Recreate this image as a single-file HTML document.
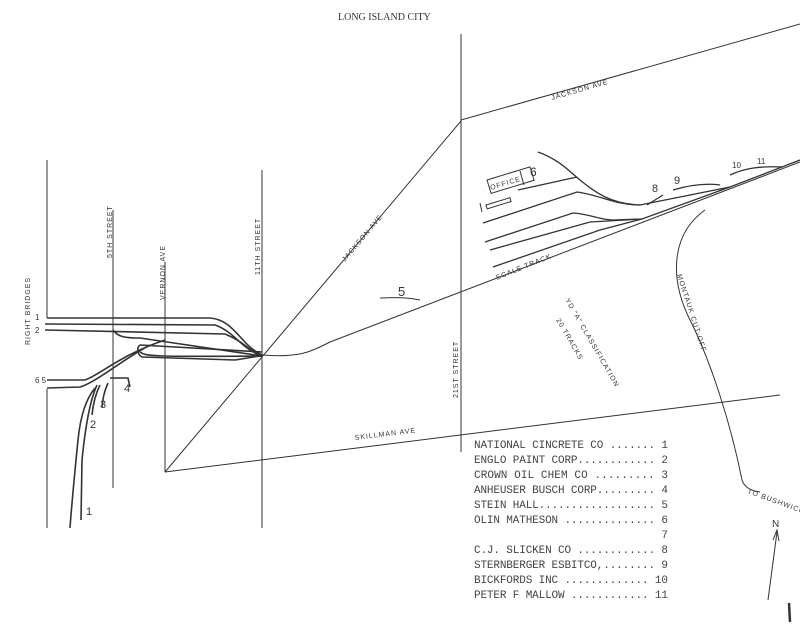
<!DOCTYPE html>
<html><head><meta charset="utf-8"><style>
html,body{margin:0;padding:0;background:#fff;width:800px;height:633px;overflow:hidden}
svg{display:block}
.t{font-family:"Liberation Mono",monospace;font-size:11px;fill:#444}
.s{font-family:"Liberation Sans",sans-serif;font-size:7px;fill:#333;letter-spacing:1px}
</style></head><body>
<svg width="800" height="633" viewBox="0 0 800 633" xmlns="http://www.w3.org/2000/svg">
<g stroke="#333" fill="none" stroke-width="1">
<line x1="461" y1="34" x2="461" y2="452"/>
<line x1="461" y1="120" x2="800" y2="24"/>
<line x1="165" y1="472" x2="461" y2="121"/>
<line x1="165" y1="472" x2="780" y2="395"/>
<path d="M262 355 C300 358 310 352 330 342 L800 162"/>
<path d="M705 210 C670 235 670 280 690 320 C710 360 730 420 742 480 Q745 490 760 492"/>
<line x1="47" y1="160" x2="47" y2="318"/>
<line x1="47" y1="389" x2="47" y2="528"/>
<line x1="113" y1="210" x2="113" y2="488"/>
<line x1="165" y1="262" x2="165" y2="472"/>
<line x1="262" y1="170" x2="262" y2="528"/>
<!-- yard tracks -->
<g stroke-width="1.3">
<path d="M538 152 C560 160 570 172 580 180 C595 192 610 204 640 205"/>
<path d="M518 190 L577 177"/>
<path d="M483 223 L577 192 C600 195 615 205 640 205"/>
<path d="M640 205 L730 187 L800 160"/>
<path d="M485 242 L573 213 C590 214 600 220 613 220 L642 219 L730 187"/>
<path d="M490 250 L590 222 L642 219"/>
<path d="M493 267 L600 230 L642 219"/>
<path d="M647 205 L663 195"/>
<path d="M673 190 C690 185 705 183 720 185"/>
<path d="M730 175 C745 168 760 166 783 167"/>
</g>
<rect x="487" y="180" width="45" height="14" transform="rotate(-17 487 180)"/>
<line x1="520" y1="171" x2="524" y2="185"/>
<rect x="486" y="205" width="25" height="4" transform="rotate(-17 486 205)"/>
<line x1="480" y1="203" x2="482" y2="212"/>
<!-- left tracks -->
<g stroke-width="1.6">
<path d="M47 318 L210 318 C235 320 240 345 262 355"/>
<path d="M45 324 L215 325 C235 332 240 348 262 356"/>
<path d="M45 330 L225 334 C245 342 250 352 262 356"/>
<path d="M113 330 C118 337 125 338 140 338 L262 356"/>
<path d="M140 345 L262 352"/>
<path d="M140 352 C145 356 150 357 262 356"/>
<path d="M140 345 C136 348 138 355 142 357 L235 360 C250 358 255 356 262 356"/>
<path d="M47 380 L85 380 C100 375 120 355 165 340"/>
<path d="M47 388 L80 387 C95 383 125 358 150 345"/>
<path d="M110 378 L128 378 L130 387"/>
<path d="M95 388 C85 400 80 420 78 440 C75 470 72 500 70 528"/>
<path d="M97 385 C90 400 85 430 82 460 L81 520"/>
<path d="M100 385 C95 395 93 405 92 415"/>
<path d="M108 383 C104 392 103 398 102 407"/>
</g>
<line x1="768" y1="600" x2="777" y2="532"/>
<path d="M773 540 L777 530 L779 541"/>
<line x1="789" y1="603" x2="790" y2="622" stroke-width="2.5"/>
<path d="M380 298 C400 297 410 298 420 300"/>
</g>
<text x="338" y="20" font-family="Liberation Serif,serif" font-size="10" fill="#333">LONG ISLAND CITY</text>
<g class="s">
<text transform="translate(552 100) rotate(-16)">JACKSON AVE</text>
<text transform="translate(345 262) rotate(-50)">JACKSON AVE</text>
<text transform="translate(355 440) rotate(-7)">SKILLMAN AVE</text>
<text transform="translate(458 398) rotate(-90)">21ST STREET</text>
<text transform="translate(260 275) rotate(-90)">11TH STREET</text>
<text transform="translate(165 300) rotate(-90)">VERNON AVE</text>
<text transform="translate(112 258) rotate(-90)">5TH STREET</text>
<text transform="translate(30 345) rotate(-90)">RIGHT BRIDGES</text>
<text transform="translate(677 275) rotate(72)">MONTAUK CUT-OFF</text>
<text transform="translate(565 300) rotate(60)">YD "A" CLASSIFICATION</text>
<text transform="translate(556 320) rotate(60)">20 TRACKS</text>
<text transform="translate(497 280) rotate(-22)">SCALE TRACK</text>
<text transform="translate(491 190) rotate(-17)">OFFICE</text>
<text transform="translate(747 493) rotate(20)">TO BUSHWICK</text>
</g>
<g font-family="Liberation Sans,sans-serif" font-size="11" fill="#333">
<text x="530" y="176" font-size="12">6</text>
<text x="398" y="296" font-size="13">5</text>
<text x="652" y="192">8</text><text x="674" y="184">9</text>
<text x="732" y="168" font-size="8">10</text><text x="757" y="164" font-size="8">11</text>
<text x="35" y="320" font-size="8">1</text><text x="35" y="333" font-size="8">2</text>
<text x="35" y="383" font-size="8">6 5</text>
<text x="86" y="515">1</text><text x="90" y="428">2</text>
<text x="100" y="408">3</text><text x="124" y="392">4</text>
<text x="772" y="527" font-size="10">N</text>
</g>
<g class="t">
<text x="474" y="448" textLength="194">NATIONAL CINCRETE CO ....... 1</text>
<text x="474" y="463" textLength="194">ENGLO PAINT CORP............ 2</text>
<text x="474" y="478" textLength="194">CROWN OIL CHEM CO ......... 3</text>
<text x="474" y="493" textLength="194">ANHEUSER BUSCH CORP......... 4</text>
<text x="474" y="508" textLength="194">STEIN HALL.................. 5</text>
<text x="474" y="523" textLength="194">OLIN MATHESON .............. 6</text>
<text x="668" y="538" text-anchor="end">7</text>
<text x="474" y="553" textLength="194">C.J. SLICKEN CO ............ 8</text>
<text x="474" y="568" textLength="194">STERNBERGER ESBITCO,........ 9</text>
<text x="474" y="583" textLength="194">BICKFORDS INC ............. 10</text>
<text x="474" y="598" textLength="194">PETER F MALLOW ............ 11</text>
</g>
</svg>
</body></html>
